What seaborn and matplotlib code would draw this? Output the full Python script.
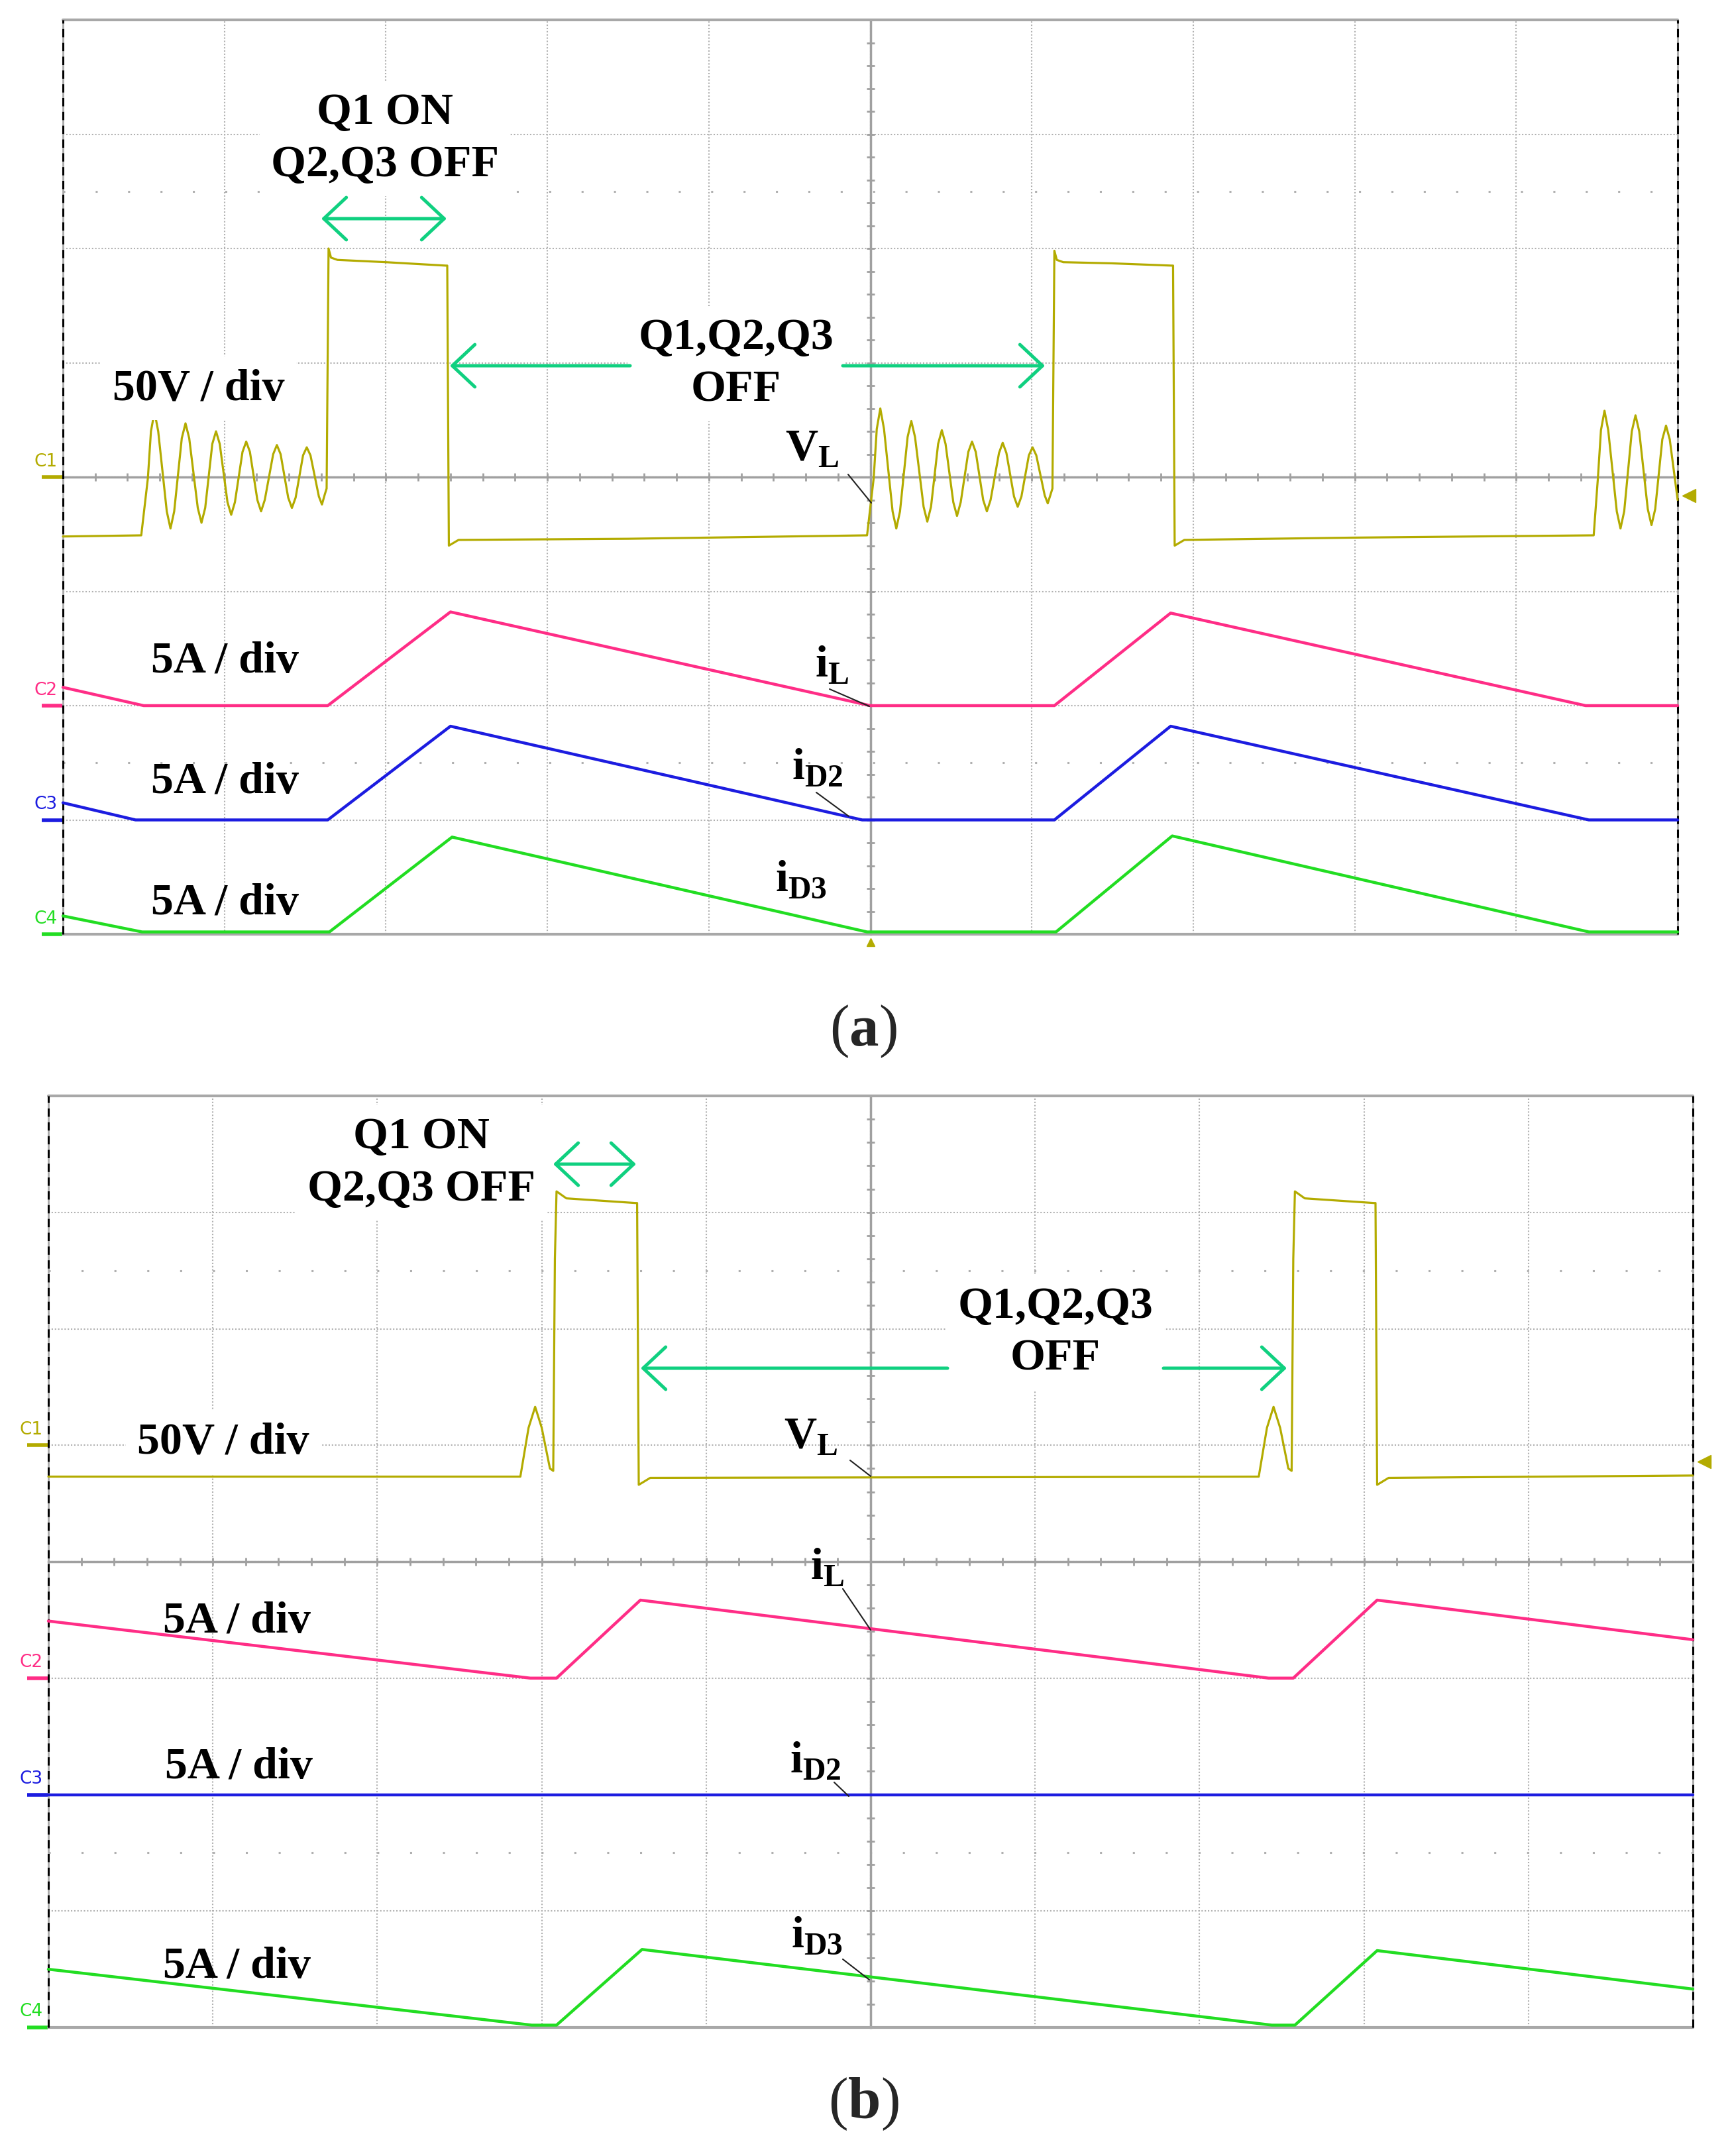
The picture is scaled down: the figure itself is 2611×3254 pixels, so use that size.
import numpy as np
import seaborn as sns
import matplotlib as mpl
mpl.use('Agg')
import matplotlib.pyplot as plt
from matplotlib.lines import Line2D
from matplotlib.patches import FancyArrowPatch
from matplotlib.ticker import MultipleLocator

W, H = 2611, 3255

# ---- panel (a): time in scope divisions (0..10), level in divisions (0..8)
a_vl_t = [0.00, 0.485, 0.526, 0.545, 0.567, 0.590, 0.643, 0.666, 0.689, 0.736, 0.759, 0.782, 0.835, 0.858, 0.881,
          0.925, 0.948, 0.971, 1.019, 1.042, 1.065, 1.112, 1.135, 1.158, 1.204, 1.227, 1.250, 1.302, 1.325, 1.348,
          1.395, 1.418, 1.441, 1.487, 1.510, 1.533, 1.585, 1.604, 1.622, 1.633, 1.645, 1.66, 1.70, 2.00, 2.37, 2.38,
          2.39, 2.45, 3.50, 4.975,
          4.98, 5.021, 5.040, 5.062, 5.085, 5.138, 5.161, 5.184, 5.231, 5.254, 5.277, 5.330, 5.353, 5.376, 5.420,
          5.443, 5.466, 5.514, 5.537, 5.560, 5.607, 5.630, 5.653, 5.699, 5.722, 5.745, 5.797, 5.820, 5.843, 5.890,
          5.913, 5.936, 5.982, 6.005, 6.028, 6.080, 6.099, 6.117, 6.128, 6.140, 6.155, 6.195, 6.495, 6.865, 6.875,
          6.885, 6.945, 7.995, 9.47,
          9.48, 9.506, 9.525, 9.547, 9.570, 9.623, 9.646, 9.669, 9.716, 9.739, 9.762, 9.815, 9.838, 9.861, 9.905,
          9.928, 9.951, 10.0]
a_vl_v = [3.48, 3.49, 3.99, 4.40, 4.57, 4.40, 3.70, 3.55, 3.70, 4.34, 4.47, 4.34, 3.73, 3.60, 3.73,
          4.29, 4.40, 4.29, 3.78, 3.67, 3.78, 4.22, 4.31, 4.22, 3.80, 3.70, 3.80, 4.20, 4.28, 4.20,
          3.82, 3.73, 3.82, 4.19, 4.26, 4.19, 3.83, 3.76, 3.85, 3.90, 6.00, 5.92, 5.90, 5.88, 5.85, 5.85,
          3.40, 3.45, 3.46, 3.49,
          3.49, 3.99, 4.42, 4.60, 4.42, 3.70, 3.55, 3.70, 4.35, 4.49, 4.35, 3.74, 3.61, 3.74, 4.29,
          4.41, 4.29, 3.78, 3.66, 3.78, 4.22, 4.31, 4.22, 3.80, 3.70, 3.80, 4.21, 4.30, 4.21, 3.83,
          3.74, 3.83, 4.19, 4.26, 4.19, 3.84, 3.77, 3.85, 3.90, 5.98, 5.90, 5.88, 5.87, 5.85, 5.85,
          3.40, 3.45, 3.47, 3.49,
          3.49, 3.99, 4.41, 4.58, 4.41, 3.70, 3.55, 3.70, 4.40, 4.54, 4.40, 3.72, 3.58, 3.72, 4.33,
          4.45, 4.33, 3.80]
a_il_t = [0.00, 0.50, 1.64, 2.40, 5.00, 6.14, 6.86, 9.43, 10.0]
a_il_v = [2.16, 2.00, 2.00, 2.82, 2.00, 2.00, 2.81, 2.00, 2.00]
a_id2_t = [0.00, 0.45, 1.64, 2.40, 4.95, 6.14, 6.86, 9.45, 10.0]
a_id2_v = [1.15, 1.00, 1.00, 1.82, 1.00, 1.00, 1.82, 1.00, 1.00]
a_id3_t = [0.00, 0.49, 1.65, 2.41, 4.98, 6.15, 6.87, 9.45, 10.0]
a_id3_v = [0.16, 0.02, 0.02, 0.85, 0.02, 0.02, 0.86, 0.02, 0.02]
a_zero = [4.0, 2.0, 1.0, 0.0]
a_trig = 3.84

# ---- panel (b)
b_vl_t = [0.00, 2.87, 2.92, 2.96, 3.00, 3.05, 3.07, 3.08, 3.09, 3.15, 3.57, 3.58, 3.59, 3.66,
          7.36, 7.41, 7.45, 7.49, 7.54, 7.56, 7.57, 7.58, 7.64, 8.06, 8.07, 8.08, 8.15, 10.0]
b_vl_v = [4.73, 4.73, 5.15, 5.33, 5.15, 4.80, 4.78, 6.60, 7.18, 7.12, 7.08, 7.08, 4.66, 4.72,
          4.73, 5.15, 5.33, 5.15, 4.80, 4.78, 6.60, 7.18, 7.12, 7.08, 7.08, 4.66, 4.72, 4.74]
b_il_t = [0.00, 2.93, 3.09, 3.60, 7.42, 7.57, 8.08, 10.0]
b_il_v = [3.49, 3.00, 3.00, 3.67, 3.00, 3.00, 3.67, 3.33]
b_id2_t = [0.00, 10.0]
b_id2_v = [2.00, 2.00]
b_id3_t = [0.00, 2.94, 3.09, 3.61, 7.44, 7.58, 8.08, 10.0]
b_id3_v = [0.50, 0.02, 0.02, 0.67, 0.02, 0.02, 0.66, 0.33]
b_zero = [5.0, 3.0, 2.0, 0.0]
b_trig = 4.86

channels = ['C1', 'C2', 'C3', 'C4']
colors = ['#b3ab00', '#ff2d86', '#1c1ce0', '#22dd22']
arrow_green = '#10d080'
grid_grey = '#b0b0b0'
axis_grey = '#a0a0a0'

sns.set_theme(style='white')
plt.rcParams['font.family'] = ['Liberation Serif', 'DejaVu Serif']
plt.rcParams['mathtext.fontset'] = 'custom'
plt.rcParams['mathtext.rm'] = 'Liberation Serif'
plt.rcParams['mathtext.bf'] = 'Liberation Serif:bold'
plt.rcParams['lines.scale_dashes'] = False

fig = plt.figure(figsize=(W / 100, H / 100), dpi=100)
fig.patch.set_facecolor('white')


def fx(x, y):
    return x / W, 1 - y / H


def screen(rect, dot_gap):
    x0, y0, x1, y1 = rect
    ax = fig.add_axes([x0 / W, 1 - y1 / H, (x1 - x0) / W, (y1 - y0) / H])
    ax.set_facecolor('white')
    ax.set_axisbelow(True)
    ax.set_xticks(np.arange(0, 11))
    ax.set_yticks(np.arange(0, 9))
    ax.xaxis.set_minor_locator(MultipleLocator(0.2))
    ax.yaxis.set_minor_locator(MultipleLocator(0.2))
    ax.grid(True, which='major', color=grid_grey, lw=1.5, linestyle=(0, (1.5, 2.0)))
    ax.grid(False, which='minor')
    for s in ['top', 'right']:
        ax.spines[s].set_visible(False)
    ax.spines['left'].set_position(('data', 5))
    ax.spines['bottom'].set_position(('data', 4))
    for s in ['left', 'bottom']:
        ax.spines[s].set_color(axis_grey)
        ax.spines[s].set_linewidth(2.5)
    ax.tick_params(which='both', direction='inout', length=9, width=2, color=axis_grey,
                   labelbottom=False, labelleft=False, bottom=True, left=True)
    for yy in [1.5, 6.5]:
        ax.axhline(yy, color=grid_grey, lw=2.2, linestyle=(0, (2.2, dot_gap)), zorder=1)
    for yy in [0, 8]:
        ax.axhline(yy, color='#a8a8a8', lw=3, clip_on=False, zorder=3)
    for xx in [0, 10]:
        ax.axvline(xx, color='#a8a8a8', lw=2, clip_on=False, zorder=3)
        ax.axvline(xx, color='black', lw=2.2, linestyle=(0, (9, 6)), clip_on=False, zorder=3)
    return ax


def traces(ax, data, zeros, trig):
    for (t, v), c, lw in zip(data, colors, [2.3, 3.2, 3.2, 3.2]):
        sns.lineplot(x=t, y=v, ax=ax, color=c, lw=lw, sort=False, estimator=None,
                     errorbar=None, zorder=4, clip_on=False)
    for z, name, c in zip(zeros, channels, colors):
        ax.plot([-0.13, -0.005], [z, z], color=c, lw=4, clip_on=False, solid_capstyle='butt')
        ax.text(-0.105, z + 0.14, name, color=c, fontsize=19, family='DejaVu Sans',
                ha='center', va='center', clip_on=False)
    ax.plot([10.07], [trig], marker='<', color=colors[0], markersize=14, clip_on=False)
    ax.set_xlim(0, 10)
    ax.set_ylim(0, 8)
    ax.set_xlabel('')
    ax.set_ylabel('')


def label(x, y, s, size=49, box=False, **kw):
    kw.setdefault('ha', 'center')
    kw.setdefault('va', 'center')
    bb = dict(boxstyle='square,pad=0.25', fc='white', ec='none') if box else None
    fig.text(x / W, 1 - y / H, s, fontsize=size, fontweight='bold', color='black',
             linespacing=1.38, multialignment='center', bbox=bb, zorder=5, **kw)


def arrow(x0, y0, x1, y1, style):
    fig.add_artist(FancyArrowPatch(fx(x0, y0), fx(x1, y1), transform=fig.transFigure,
                                   arrowstyle=style + ',head_length=2.45,head_width=2.3',
                                   mutation_scale=10, color=arrow_green, lw=3.6,
                                   shrinkA=0, shrinkB=0, zorder=6))


def leader(x0, y0, x1, y1):
    a, b = fx(x0, y0)
    c, d = fx(x1, y1)
    fig.add_artist(Line2D([a, c], [b, d], color='#202020', lw=1.5, transform=fig.transFigure, zorder=6))


# ---------------- panel (a)
ax_a = screen((95, 31, 2532, 1411), 33.0)
traces(ax_a, [(a_vl_t, a_vl_v), (a_il_t, a_il_v), (a_id2_t, a_id2_v), (a_id3_t, a_id3_v)], a_zero, a_trig)
ax_a.plot([5], [-0.07], marker='^', color=colors[0], markersize=9, clip_on=False)

label(581, 210, 'Q1 ON\nQ2,Q3 OFF', box=True)
arrow(485, 331, 674, 331, '<->')
label(300, 587, '50V / div', box=True)
label(1111, 550, 'Q1,Q2,Q3\nOFF', box=True)
arrow(951, 553, 679, 553, '->')
arrow(1272, 553, 1577, 553, '->')
label(1185, 695, r'$\mathbf{V}_{\mathbf{L}}$', ha='left', va='baseline')
leader(1280, 717, 1315, 760)
label(339, 998, '5A / div')
label(339, 1180, '5A / div')
label(339, 1363, '5A / div')
label(1230, 1022, r'$\mathbf{i}_{\mathbf{L}}$', ha='left', va='baseline')
leader(1252, 1041, 1312, 1067)
label(1195, 1177, r'$\mathbf{i}_{\mathbf{D2}}$', ha='left', va='baseline')
leader(1232, 1197, 1281, 1233)
label(1170, 1345, r'$\mathbf{i}_{\mathbf{D3}}$', ha='left', va='baseline')
fig.text(1303 / W, 1 - 1557 / H, r'($\mathbf{a}$)', fontsize=64, ha='center', va='center')

# ---------------- panel (b)
ax_b = screen((73, 1655, 2555, 3061), 33.5)
traces(ax_b, [(b_vl_t, b_vl_v), (b_il_t, b_il_v), (b_id2_t, b_id2_v), (b_id3_t, b_id3_v)], b_zero, b_trig)

label(636, 1756, 'Q1 ON\nQ2,Q3 OFF', box=True)
arrow(835, 1758, 960, 1758, '<->')
label(337, 2177, '50V / div', box=True)
label(1593, 2012, 'Q1,Q2,Q3\nOFF', box=True)
arrow(1430, 2066, 967, 2066, '->')
arrow(1756, 2066, 1942, 2066, '->')
label(1183, 2186, r'$\mathbf{V}_{\mathbf{L}}$', ha='left', va='baseline')
leader(1283, 2205, 1314, 2229)
label(1223, 2384, r'$\mathbf{i}_{\mathbf{L}}$', ha='left', va='baseline')
leader(1272, 2399, 1314, 2461)
label(357, 2447, '5A / div')
label(360, 2667, '5A / div')
label(1192, 2676, r'$\mathbf{i}_{\mathbf{D2}}$', ha='left', va='baseline')
leader(1259, 2691, 1281, 2712)
label(357, 2968, '5A / div')
label(1194, 2939, r'$\mathbf{i}_{\mathbf{D3}}$', ha='left', va='baseline')
leader(1272, 2958, 1312, 2989)
fig.text(1303 / W, 1 - 3176 / H, r'($\mathbf{b}$)', fontsize=64, ha='center', va='center')

fig.savefig('out.png', dpi=100, facecolor='white')
